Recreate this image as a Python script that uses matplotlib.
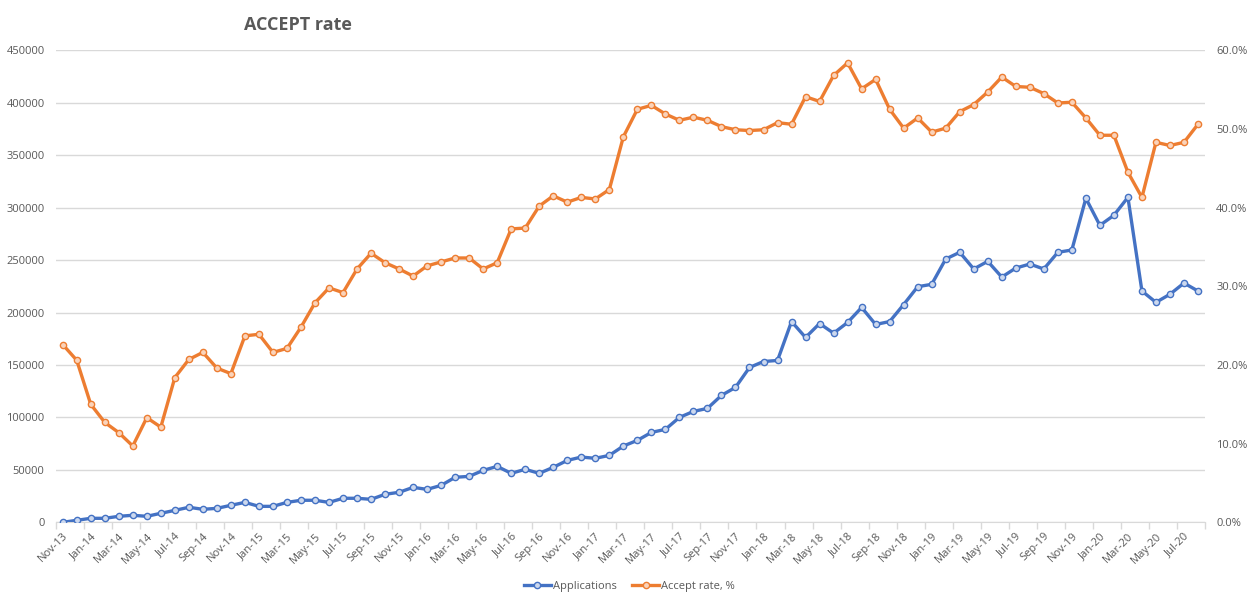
import numpy as np
import pandas as pd
import matplotlib
matplotlib.use("Agg")
import matplotlib.pyplot as plt
from matplotlib.ticker import PercentFormatter, FixedLocator

plt.rcParams['font.family'] = ['Open Sans', 'DejaVu Sans']

# monthly categories Nov-13 .. Aug-20
months = pd.date_range('2013-11-01', periods=82, freq='MS').strftime('%b-%y').tolist()

applications = [0, 1900, 3800, 3800, 5700, 6700, 5700, 8600, 11400, 14300,
                12400, 13300, 16200, 19000, 15200, 15200, 19000, 21000, 21000, 19000,
                22900, 22900, 21900, 26700, 28600, 33300, 31400, 35200, 42900, 43800,
                49500, 53300, 46700, 50500, 46700, 52400, 59000, 62200, 61000, 63800,
                72700, 78100, 85700, 88600, 100000, 105700, 108600, 121000, 128600, 147600,
                153300, 154300, 191400, 176200, 189500, 180300, 190500, 204800, 188600, 191400,
                207600, 224600, 226900, 251000, 257400, 241500, 248800, 233800, 242400, 246200,
                241500, 257400, 259600, 308900, 283100, 292700, 309800, 220500, 209700, 217400,
                228100, 220500]

accept_rate = [22.6, 20.6, 15.0, 12.7, 11.4, 9.7, 13.3, 12.1, 18.4, 20.7,
               21.6, 19.6, 18.9, 23.7, 23.9, 21.6, 22.1, 24.8, 27.9, 29.8,
               29.2, 32.2, 34.2, 33.0, 32.2, 31.3, 32.6, 33.1, 33.6, 33.6,
               32.2, 33.0, 37.3, 37.4, 40.2, 41.5, 40.7, 41.3, 41.1, 42.3,
               49.0, 52.5, 53.0, 51.9, 51.1, 51.5, 51.1, 50.3, 49.9, 49.8,
               49.9, 50.8, 50.6, 54.1, 53.5, 56.8, 58.4, 55.1, 56.3, 52.5,
               50.1, 51.4, 49.6, 50.1, 52.2, 53.1, 54.7, 56.6, 55.4, 55.3,
               54.5, 53.3, 53.4, 51.4, 49.2, 49.2, 44.5, 41.3, 48.3, 47.9,
               48.3, 50.6]

blue = '#4472C4'
orange = '#ED7D31'
grey = '#595959'
gridc = '#D9D9D9'

x = np.arange(len(months))
rate = np.array(accept_rate) / 100

fig = plt.figure(figsize=(12.54, 6.05), dpi=100)
ax = fig.add_axes([55.7/1254, 1-522.3/605, (1205-55.7)/1254, (522.3-50.3)/605])
ax2 = ax.twinx()

l1, = ax.plot(x, applications, color=blue, lw=2.4, marker='o', ms=4.5,
              mfc='#CCD8EE', mec=blue, mew=1.0, label='Applications', zorder=3)
l2, = ax2.plot(x, rate, color=orange, lw=2.4, marker='o', ms=4.5,
               mfc='#FAD3BA', mec=orange, mew=1.0, label='Accept rate, %', zorder=3)

ax.set_xlim(-0.5, len(months)-0.5)
ax.set_ylim(0, 450000)
ax.set_yticks(np.arange(0, 450001, 50000))
ax.yaxis.grid(True, color=gridc, lw=1)
ax.set_axisbelow(True)
ax2.set_ylim(0, 0.6)
ax2.set_yticks(np.arange(0, 0.61, 0.1))
ax2.yaxis.set_major_formatter(PercentFormatter(xmax=1, decimals=1))

# category boundaries as tick marks, labels on every second month
ax.xaxis.set_major_locator(FixedLocator(np.arange(-0.5, len(months), 2)))
ax.xaxis.set_minor_locator(FixedLocator(x[::2]))
ax.set_xticklabels([], minor=False)
ax.set_xticklabels(months[::2], minor=True, rotation=45, ha='right', va='top',
                   rotation_mode='anchor')
ax.tick_params(axis='x', which='major', length=5, color=gridc, width=1)
ax.tick_params(axis='x', which='minor', length=0, pad=6, labelsize=8, labelcolor=grey)
ax.tick_params(axis='y', length=0, pad=8, labelsize=8, labelcolor=grey)
ax2.tick_params(axis='y', length=0, pad=8, labelsize=8, labelcolor=grey)

for s in ['top', 'left', 'right']:
    ax.spines[s].set_visible(False)
    ax2.spines[s].set_visible(False)
ax.spines['bottom'].set_color(gridc)
ax2.spines['bottom'].set_visible(False)

fig.text(298/1254, 1-24.6/605, 'ACCEPT rate', ha='center', va='center',
         fontsize=13, fontweight='bold', color=grey)

fig.legend(handles=[l1, l2], loc='center', bbox_to_anchor=(629.5/1254, 1-586/605),
           ncol=2, frameon=False, fontsize=8, labelcolor=grey,
           handlelength=2.4, handletextpad=0.2, columnspacing=1.4)

fig.savefig('out.png', dpi=100)
